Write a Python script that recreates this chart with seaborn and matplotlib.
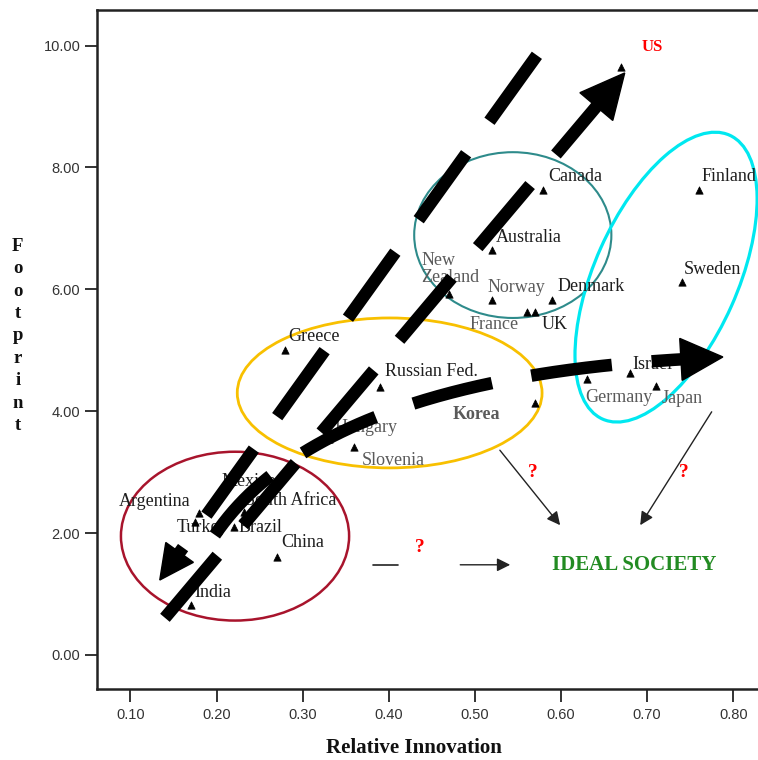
import numpy as np
import pandas as pd
import matplotlib
matplotlib.use("Agg")
import matplotlib.pyplot as plt
import matplotlib.transforms as mtransforms
from matplotlib.patches import Ellipse, Polygon
import seaborn as sns

# ---------------- data ----------------
countries = ["US", "Canada", "Australia", "New\nZealand", "Norway", "Denmark", "France", "UK",
             "Finland", "Sweden", "Israel", "Germany", "Japan", "Korea", "Russian Fed.",
             "Hungary", "Slovenia", "Greece", "Mexico", "Argentina", "Turkey", "Brazil",
             "South Africa", "China", "India"]
innovation = [0.67, 0.579, 0.52, 0.47, 0.52, 0.59, 0.56, 0.57,
              0.76, 0.74, 0.68, 0.63, 0.71, 0.57, 0.39,
              0.33, 0.36, 0.28, 0.20, 0.18, 0.175, 0.22,
              0.232, 0.27, 0.17]
footprint = [9.65, 7.63, 6.64, 5.92, 5.82, 5.82, 5.63, 5.63,
             7.63, 6.12, 4.63, 4.53, 4.41, 4.13, 4.40,
             3.54, 3.41, 5.00, 2.62, 2.33, 2.18, 2.10,
             2.34, 1.61, 0.82]
x_ticks = [0.10, 0.20, 0.30, 0.40, 0.50, 0.60, 0.70, 0.80]
y_ticks = [0.0, 2.0, 4.0, 6.0, 8.0, 10.0]

df = pd.DataFrame({"country": countries, "x": innovation, "y": footprint})

# label offsets in pixels (dx, dy up-positive) from point to label's left/centre
label_off = {
    "US": (20, 20), "Canada": (5, 13), "Australia": (4, 13), "New\nZealand": (-28, 25),
    "Norway": (-5, 13), "Denmark": (5, 14), "France": (-57, -13), "UK": (6, -13),
    "Finland": (3, 13), "Sweden": (2, 13), "Israel": (3, 8), "Germany": (-2, -19),
    "Japan": (6, -12), "Korea": (-83, -11), "Russian Fed.": (5, 15), "Hungary": (6, 12),
    "Slovenia": (7, -13), "Greece": (3, 14), "Mexico": (5, 14), "Argentina": (-81, 11),
    "Turkey": (-18, -5), "Brazil": (5, 0), "South Africa": (1, 12), "China": (4, 14),
    "India": (4, 13),
}
gray_labels = {"New\nZealand", "Norway", "France", "Korea", "Germany", "Japan", "Slovenia", "Hungary"}

# ---------------- figure ----------------
sns.set_style("white")
plt.rcParams["font.family"] = ["Liberation Serif", "DejaVu Serif"]

fig = plt.figure(figsize=(7.58, 7.60), dpi=100)
ax = fig.add_axes([97 / 758, 1 - 689 / 760, (758 - 97) / 758, 679 / 760])
ax.set_xlim(0.0611, 0.8288)
ax.set_ylim(-0.558, 10.583)

sns.scatterplot(data=df, x="x", y="y", marker="^", s=28, color="black",
                edgecolor="black", linewidth=0.5, ax=ax, zorder=3, legend=False)

for c, xv, yv in zip(countries, innovation, footprint):
    dx, dy = label_off[c]
    if c == "US":
        ax.annotate(c, (xv, yv), xytext=(dx * 0.72, dy * 0.72), textcoords="offset points",
                    ha="left", va="center", fontsize=12, color="red", fontweight="bold")
        continue
    col = "#5a5a5a" if c in gray_labels else "#1e1e1e"
    fw = "bold" if c == "Korea" else "normal"
    ax.annotate(c, (xv, yv), xytext=(dx * 0.72, dy * 0.72), textcoords="offset points",
                ha="left", va="center", fontsize=13, color=col, fontweight=fw,
                linespacing=1.0, zorder=2)

# ---------------- axes styling ----------------
ax.set_xticks(x_ticks)
ax.set_xticklabels([f"{v:.2f}" for v in x_ticks])
ax.set_yticks(y_ticks)
ax.set_yticklabels([f"{v:.2f}" for v in y_ticks])
for lab in ax.get_xticklabels() + ax.get_yticklabels():
    lab.set_family(["Liberation Sans", "DejaVu Sans"])
    lab.set_fontsize(10.5)
    lab.set_color("#333333")
ax.tick_params(axis="both", which="major", bottom=True, left=True, top=False, right=False,
               direction="out", length=9, width=1.4, color="#333333", pad=3)
ax.tick_params(axis="x", pad=5)
for s in ["left", "bottom", "top"]:
    ax.spines[s].set_linewidth(1.8)
    ax.spines[s].set_color("#222222")
ax.spines["right"].set_visible(False)

ax.set_xlabel("Relative Innovation", fontsize=15, fontweight="bold", color="#111111")
ax.xaxis.set_label_coords(0.48, -0.072)
ax.set_ylabel("F\no\no\nt\np\nr\ni\nn\nt", rotation=0, fontsize=13.5, fontweight="bold",
              color="#111111", linespacing=1.42, va="center", ha="center")
ax.yaxis.set_label_coords(-0.12, 0.52)

# ---------------- cluster ellipses ----------------
ax.add_patch(Ellipse((0.2214, 1.95), 0.265, 2.77, fill=False, ec="#a8142c", lw=1.8, zorder=1))
ax.add_patch(Ellipse((0.401, 4.30), 0.354, 2.46, fill=False, ec="#f8c000", lw=2.0, zorder=1))
ax.add_patch(Ellipse((0.544, 6.89), 0.229, 2.72, fill=False, ec="#2e8b8b", lw=1.5, zorder=1))
cyan_tr = fig.dpi_scale_trans + mtransforms.ScaledTranslation(0.722, 6.20, ax.transData)
ax.add_patch(Ellipse((0, 0), 3.11, 1.43, angle=65.9, fill=False, ec="#00e8f0", lw=2.3,
                     transform=cyan_tr, zorder=1))


# ---------------- thick dashed arrows ----------------
def to_px(p):
    return ax.transData.transform(p)


def head(tip, frm, length_px, width_px):
    """Filled triangular head at tip, pointing away from frm (data coords)."""
    t = to_px(tip)
    f = to_px(frm)
    d = (t - f) / np.hypot(*(t - f))
    n = np.array([-d[1], d[0]])
    base = t - d * length_px
    pts = np.array([t, base + n * width_px / 2, base - n * width_px / 2]) / fig.dpi
    ax.add_patch(Polygon(pts, closed=True, fc="black", ec="black", transform=fig.dpi_scale_trans,
                         zorder=5, clip_on=False))
    inv = ax.transData.inverted()
    return inv.transform(base + d * 2)


lw_thick = 9.0
dash = (6.5, 3.2)

# Line A: long dashed line pointing down-left to India
a_top, a_tip = (0.572, 9.84), (0.134, 1.23)
a_base = head(a_tip, a_top, 34, 34)
ax.plot([a_top[0], a_base[0]], [a_top[1], a_base[1]], color="black", lw=lw_thick,
        dashes=dash, dash_capstyle="butt", solid_capstyle="butt", zorder=4)

# Line B: dashed arrow up to US
b_start, b_tip = (0.140, 0.61), (0.674, 9.55)
b_base = head(b_tip, b_start, 44, 43)
ax.plot([b_start[0], b_base[0]], [b_start[1], b_base[1]], color="black", lw=lw_thick,
        dashes=dash, dash_capstyle="butt", zorder=4)

# Line C: curved dashed arrow toward the right
p0, p1, p2 = np.array([0.198, 1.97]), np.array([0.320, 4.51]), np.array([0.788, 4.89])
c_base = head(tuple(p2), tuple(p1 + (p2 - p1) * 0.85), 42, 42)
tt = np.linspace(0, 1, 200)[:, None]
curve = (1 - tt) ** 2 * p0 + 2 * (1 - tt) * tt * p1 + tt ** 2 * np.array(c_base)
ax.plot(curve[:, 0], curve[:, 1], color="black", lw=lw_thick, dashes=dash,
        dash_capstyle="butt", zorder=4)

# ---------------- thin arrows / ideal society ----------------
arw = dict(arrowstyle="-|>", color="#222222", lw=1.0, mutation_scale=20, shrinkA=0, shrinkB=0)
ax.annotate("", xy=(0.599, 2.13), xytext=(0.529, 3.36), arrowprops=arw, zorder=4)
ax.annotate("", xy=(0.692, 2.13), xytext=(0.775, 3.99), arrowprops=arw, zorder=4)
ax.plot([0.382, 0.411], [1.48, 1.48], color="#222222", lw=1.2, zorder=4)
ax.annotate("", xy=(0.541, 1.48), xytext=(0.483, 1.48), arrowprops=arw, zorder=4)

for qx, qy in [(0.567, 3.0), (0.742, 3.0), (0.436, 1.76)]:
    ax.text(qx, qy, "?", color="red", fontsize=14, fontweight="bold", ha="center", va="center")

ax.text(0.685, 1.48, "IDEAL SOCIETY", color="#228b22", fontsize=15, fontweight="bold",
        ha="center", va="center")

fig.savefig("out.png", dpi=100)
